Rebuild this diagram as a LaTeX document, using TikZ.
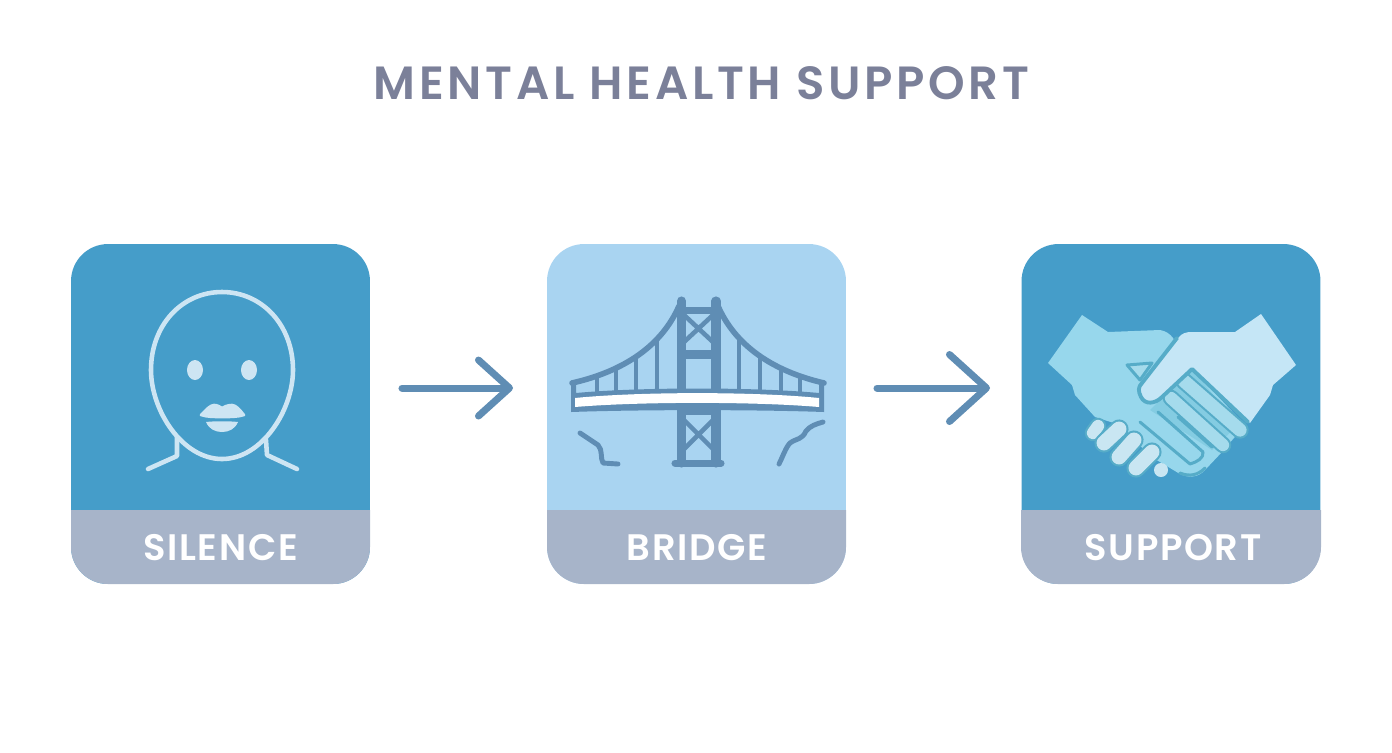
\documentclass[tikz,border=0pt]{standalone}
\usepackage{fontspec}
\setmainfont{Poppins SemiBold}
\usetikzlibrary{arrows.meta}
\definecolor{cardblue}{HTML}{459DC9}
\definecolor{cardpale}{HTML}{A9D4F1}
\definecolor{bandgrey}{HTML}{A7B4C9}
\definecolor{titlegrey}{HTML}{7B8099}
\definecolor{steelblue}{HTML}{5F8DB4}
\definecolor{facepale}{HTML}{CDE5F3}
\definecolor{handleft}{HTML}{97D7EC}
\definecolor{handright}{HTML}{C5E6F6}
\definecolor{fingerblue}{HTML}{A5DBEC}
\definecolor{palmshade}{HTML}{84CCE2}
\definecolor{knucklepale}{HTML}{C9E6F2}
\definecolor{handline}{HTML}{56ACC8}
\tikzset{
  cardbox/.style={inner sep=0pt, minimum width=5.98cm, minimum height=6.8cm, rounded corners=0.74cm},
  bandlabel/.style={text=white, font=\fontsize{21}{21}\selectfont\addfontfeature{LetterSpace=4.5}},
  flowarrow/.style={steelblue, line width=4pt, line cap=round},
  faceline/.style={facepale, line width=2.6pt, line cap=round, line join=round},
  bridgeline/.style={steelblue, line width=#1, line cap=round, line join=round},
  fingerline/.style={handline, line width=1.7pt, line cap=round, line join=round}
}
% one finger: outline first, then the pale body on top
\newcommand{\fingerpill}[4]{
  \draw[handline, line width=#4+2.4pt, line cap=round] #1 -- #2;
  \draw[#3, line width=#4, line cap=round] #1 -- #2;
}
\begin{document}
\begin{tikzpicture}[x=0.02cm,y=-0.02cm]
  \useasboundingbox (0,0) rectangle (1392,752);

  \node[text=titlegrey, font=\fontsize{26.5}{27}\selectfont\addfontfeature{LetterSpace=8}] (title) at (701.5,83) {MENTAL HEALTH SUPPORT};

  % Cards
  \node[cardbox, fill=cardblue] (silence) at (220.5,414) {};
  \node[cardbox, fill=cardpale] (bridge) at (696.5,414) {};
  \node[cardbox, fill=cardblue] (support) at (1171,414) {};

  % Bands
  \fill[bandgrey] (71,510) {[rounded corners=0.74cm] -- (71,584) -- (370,584)} -- (370,510) -- cycle;
  \fill[bandgrey] (547,510) {[rounded corners=0.74cm] -- (547,584) -- (846,584)} -- (846,510) -- cycle;
  \fill[bandgrey] (1021,510) {[rounded corners=0.74cm] -- (1021,584) -- (1321,584)} -- (1321,510) -- cycle;
  \node[bandlabel] (silencelabel) at (220.5,548) {SILENCE};
  \node[bandlabel] (bridgelabel) at (697,548) {BRIDGE};
  \node[bandlabel] (supportlabel) at (1173,548) {SUPPORT};

  % Arrows
  \coordinate (a1) at (402,388);
  \coordinate (a2) at (513,388);
  \coordinate (a3) at (877,388);
  \coordinate (a4) at (990,388);
  \draw[flowarrow, -{Straight Barb[round,length=0.62cm,width=1.12cm]}] (a1) -- (a2);
  \draw[flowarrow, -{Straight Barb[round,length=0.74cm,width=1.34cm]}] (a3) -- (a4);

  % Face
  \draw[faceline] (222,292) .. controls (262,292) and (293,325) .. (293,370)
    .. controls (293,410) and (262,459) .. (222,459)
    .. controls (182,459) and (151,410) .. (151,370)
    .. controls (151,325) and (182,292) .. (222,292) -- cycle;
  \draw[faceline] (177,437) -- (177,456) -- (148,469);
  \draw[faceline] (266,440) -- (267,455) -- (297,469);
  \fill[facepale] (195,370) ellipse [x radius=8, y radius=10];
  \fill[facepale] (249,370) ellipse [x radius=8, y radius=10];
  \filldraw[facepale, line width=1.5pt, line join=round] (201,415) .. controls (206,410) and (210,405) .. (214,405)
    .. controls (218,405) and (220,407) .. (222,408)
    .. controls (224,407) and (227,405) .. (232,405)
    .. controls (236,405) and (240,410) .. (244,415)
    .. controls (238,417) and (230,417) .. (222,417)
    .. controls (214,417) and (207,417) .. (201,415) -- cycle;
  \fill[facepale] (206,422) .. controls (214,421) and (230,421) .. (238,422)
    .. controls (235,429) and (229,432) .. (222,432)
    .. controls (215,432) and (209,429) .. (206,422) -- cycle;

  % Bridge towers
  \draw[bridgeline=5.2pt] (681.5,301) -- (681.5,463);
  \draw[bridgeline=5.2pt] (716,301) -- (716,463);
  \draw[bridgeline=4pt] (675,463) -- (721,463);
  \fill[steelblue] (681,307) rectangle (716,314);
  \fill[steelblue] (681,350) rectangle (716,359);
  \fill[steelblue] (681,410) rectangle (716,415);
  \draw[bridgeline=2.6pt, line cap=butt] (684,315) -- (713,342) (713,315) -- (684,342);
  \draw[bridgeline=2.6pt, line cap=butt] (684,420) -- (713,449) (713,420) -- (684,449);

  % Bridge cables and hangers
  \draw[bridgeline=3.2pt] (679,306) .. controls (662,345) and (625,371) .. (572,383);
  \draw[bridgeline=3.2pt] (718,306) .. controls (735,345) and (772,371) .. (824,383);
  \foreach \hx/\hy in {597/377, 616/370, 636/358, 657/340, 739/340, 760/358, 781/370, 800/377}
    \draw[bridgeline=2.4pt, line cap=butt] (\hx,\hy) -- (\hx,392);

  % Bridge deck
  \fill[steelblue] (571,382) -- (576,382) -- (576,393) .. controls (640,387) and (755,387) .. (819,393) -- (819,382) -- (824,382)
    -- (824,412) .. controls (755,409.5) and (640,409.5) .. (571,412) -- cycle;
  \fill[white] (575,398) .. controls (640,391.5) and (755,391.5) .. (819,398) -- (819,407)
    .. controls (755,401.5) and (640,401.5) .. (575,407) -- cycle;

  % Cliffs
  \draw[bridgeline=2.8pt] (580,433) -- (598,445) .. controls (603,450) and (600,458) .. (603,463) -- (618,464);
  \draw[bridgeline=2.8pt] (779,464) .. controls (783,456) and (786,447) .. (790,443) .. controls (797,438) and (802,440) .. (806,431) .. controls (810,426) and (816,424) .. (823,422);

  % Left hand
  \fill[handleft] (1082,315) -- (1108,332) -- (1160,330) .. controls (1166,331) and (1170,334) .. (1173,338) -- (1192,369) -- (1245,425) -- (1222,452) -- (1205,470) .. controls (1198,478) and (1188,478) .. (1180,474)
    -- (1150,456) -- (1120,425) -- (1095,417) -- (1075,395) -- (1072,385) -- (1048,363) -- cycle;
  \fill[palmshade] (1150,410) -- (1192,369) -- (1238,425) -- (1212,450) -- cycle;
  \draw[fingerline, fill=fingerblue] (1127,365) -- (1152,363) -- (1140,380) -- cycle;

  % Fingers
  \fingerpill{(1171,398)}{(1223,445)}{fingerblue}{7pt}
  \fingerpill{(1184,381)}{(1240,430)}{fingerblue}{7.5pt}
  \draw[fingerline] (1140,422) -- (1190,464) .. controls (1197,462) and (1204,458) .. (1203,452);
  \draw[fingerline] (1158,412) -- (1203,452);
  \draw[fingerline] (1178,417) -- (1212,447);
  \draw[fingerline] (1180,473) .. controls (1190,477) and (1198,475) .. (1205,468);

  % Knuckles
  \fingerpill{(1093,433)}{(1098,426)}{knucklepale}{7pt}
  \fingerpill{(1104,443)}{(1119,429)}{knucklepale}{8.5pt}
  \fingerpill{(1119,457)}{(1134,440)}{knucklepale}{8.5pt}
  \fingerpill{(1136,468)}{(1152,452)}{knucklepale}{8.5pt}
  \fill[knucklepale] (1161,470) circle [radius=7];

  % Right hand
  \fill[handright]
    (1261,314) -- (1296,365) -- (1273,385) -- (1270,395) -- (1250,423) -- (1192,369) -- (1162,397)
    .. controls (1155,404) and (1145,405) .. (1141,397) .. controls (1138,391) and (1138,387) .. (1142,383)
    -- (1178,338) .. controls (1182,333) and (1186,332) .. (1192,332) -- (1235,332) -- cycle;
  \draw[handline, line width=2.2pt, line join=round, line cap=round]
    (1177,338) -- (1142,383) .. controls (1138,387) and (1138,391) .. (1141,397)
    .. controls (1145,405) and (1155,404) .. (1162,397) -- (1192,369) -- (1248,422);
\end{tikzpicture}
\end{document}
